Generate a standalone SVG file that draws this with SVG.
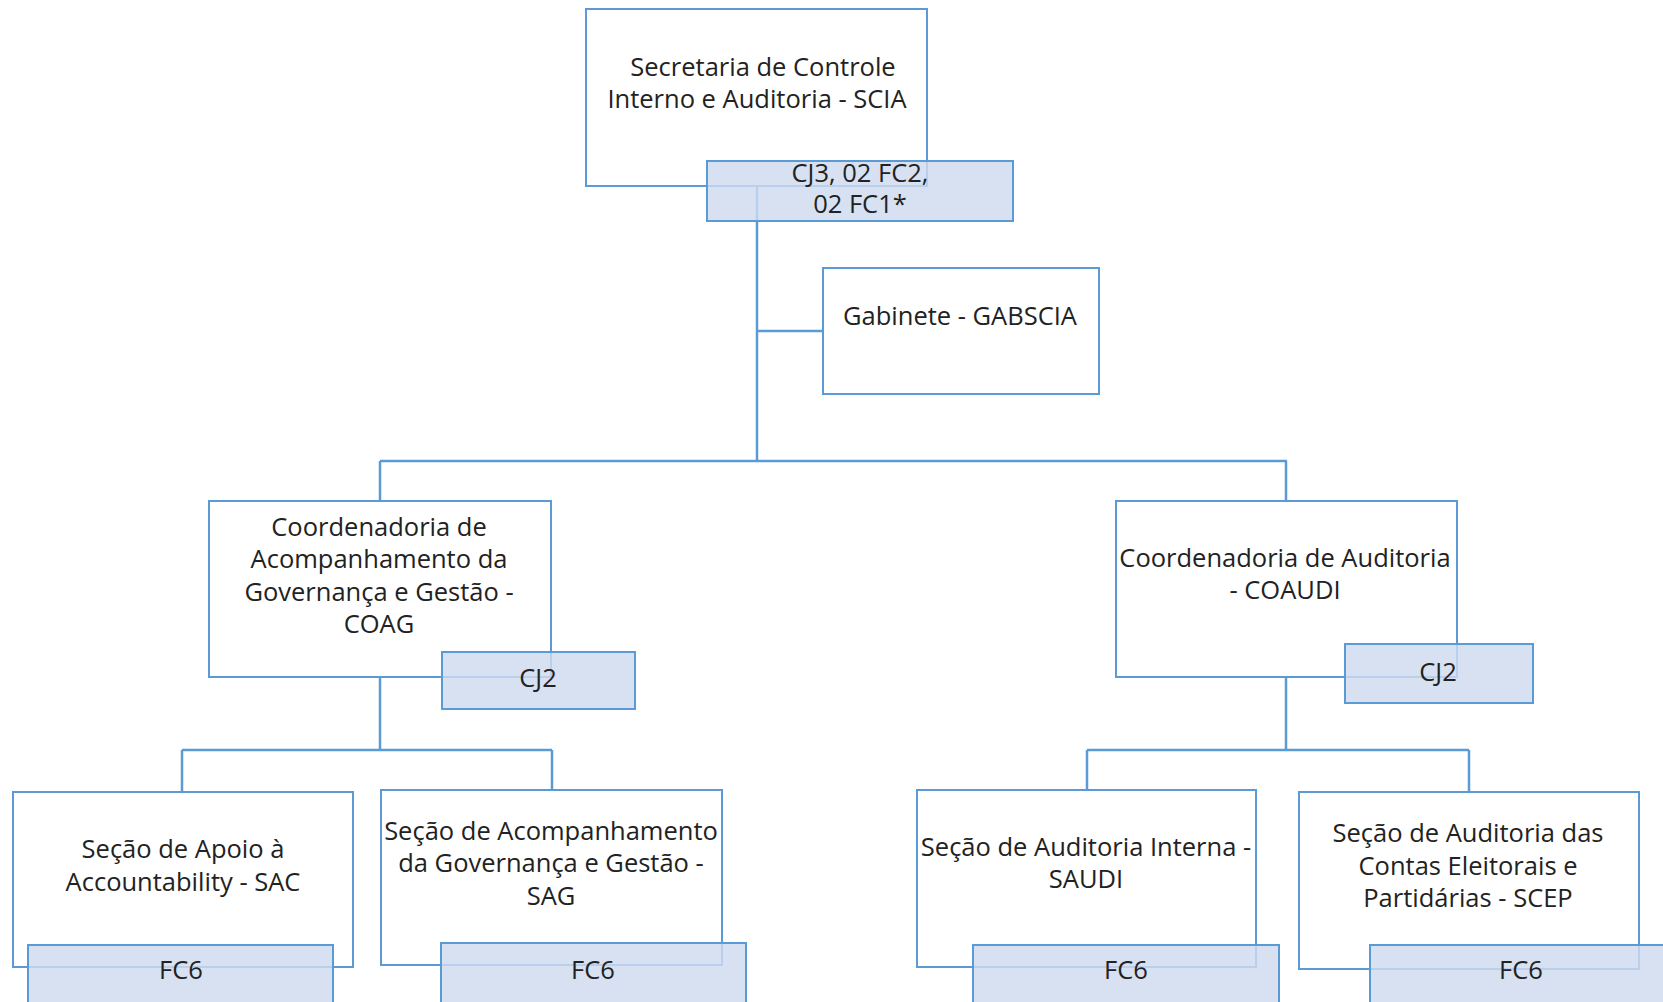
<svg xmlns="http://www.w3.org/2000/svg" width="1663" height="1002" viewBox="0 0 1663 1002">
<style>
.box{fill:#ffffff;stroke:#5b9bd5;stroke-width:2}
.lab{fill:#cedbef;fill-opacity:0.82;stroke:#5b9bd5;stroke-width:2}
.con{fill:none;stroke:#5b9bd5;stroke-width:2.5}
text{font-family:"Open Sans","Liberation Sans",sans-serif;font-size:25.5px;fill:#222222;text-anchor:middle}
</style>
<rect width="1663" height="1002" fill="#ffffff"/>
<g id="connectors">
<path class="con" d="M757 186 V461"/>
<path class="con" d="M757 331 H823"/>
<path class="con" d="M380 461 H1287"/>
<path class="con" d="M380 461 V501"/>
<path class="con" d="M1286 461 V501"/>
<path class="con" d="M380 677 V750"/>
<path class="con" d="M182 750 H552"/>
<path class="con" d="M182 750 V792"/>
<path class="con" d="M552 750 V790"/>
<path class="con" d="M1286 677 V750"/>
<path class="con" d="M1087 750 H1469"/>
<path class="con" d="M1087 750 V790"/>
<path class="con" d="M1469 750 V792"/>
</g>
<g id="scia">
<rect class="box" x="586" y="9" width="341" height="177"/>
<text x="763" y="76">Secretaria de Controle</text>
<text x="757" y="108">Interno e Auditoria - SCIA</text>
<rect class="lab" x="707" y="161" width="306" height="60"/>
<text x="860" y="182">CJ3, 02 FC2,</text>
<text x="860" y="213">02 FC1*</text>
</g>
<g id="gabscia">
<rect class="box" x="823" y="268" width="276" height="126"/>
<text x="960" y="325">Gabinete - GABSCIA</text>
</g>
<g id="coag">
<rect class="box" x="209" y="501" width="342" height="176"/>
<text x="379" y="536">Coordenadoria de</text>
<text x="379" y="568">Acompanhamento da</text>
<text x="379" y="601">Governança e Gestão -</text>
<text x="379" y="633">COAG</text>
<rect class="lab" x="442" y="652" width="193" height="57"/>
<text x="538" y="687">CJ2</text>
</g>
<g id="coaudi">
<rect class="box" x="1116" y="501" width="341" height="176"/>
<text x="1285" y="567">Coordenadoria de Auditoria</text>
<text x="1285" y="599">- COAUDI</text>
<rect class="lab" x="1345" y="644" width="188" height="59"/>
<text x="1438" y="681">CJ2</text>
</g>
<g id="sac">
<rect class="box" x="13" y="792" width="340" height="175"/>
<text x="183" y="858">Seção de Apoio à</text>
<text x="183" y="891">Accountability - SAC</text>
<rect class="lab" x="28" y="945" width="305" height="70"/>
<text x="181" y="979">FC6</text>
</g>
<g id="sag">
<rect class="box" x="381" y="790" width="341" height="175"/>
<text x="551" y="840">Seção de Acompanhamento</text>
<text x="551" y="872">da Governança e Gestão -</text>
<text x="551" y="905">SAG</text>
<rect class="lab" x="441" y="943" width="305" height="72"/>
<text x="593" y="979">FC6</text>
</g>
<g id="saudi">
<rect class="box" x="917" y="790" width="339" height="177"/>
<text x="1086" y="856">Seção de Auditoria Interna -</text>
<text x="1086" y="888">SAUDI</text>
<rect class="lab" x="973" y="945" width="306" height="70"/>
<text x="1126" y="979">FC6</text>
</g>
<g id="scep">
<rect class="box" x="1299" y="792" width="340" height="177"/>
<text x="1468" y="842">Seção de Auditoria das</text>
<text x="1468" y="875">Contas Eleitorais e</text>
<text x="1468" y="907">Partidárias - SCEP</text>
<rect class="lab" x="1370" y="945" width="306" height="70"/>
<text x="1521" y="979">FC6</text>
</g>
</svg>
